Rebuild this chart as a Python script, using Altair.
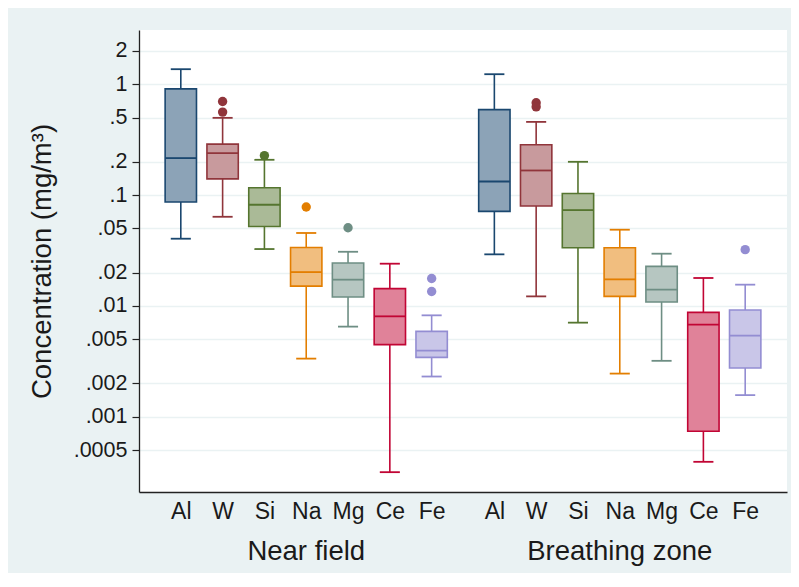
import json
import altair as alt
import pandas as pd

# ---- data ----
groups = ["Near field", "Breathing zone"]
elements = ["Al", "W", "Si", "Na", "Mg", "Ce", "Fe"]

# Near field summary statistics (whisker low, Q1, median, Q3, whisker high)
nf_lo  = [0.0404, 0.0637, 0.0326, 0.00335, 0.00651, 0.000317, 0.00231]
nf_q1  = [0.0865, 0.140,  0.0521, 0.0151,  0.01205, 0.00448,  0.00344]
nf_med = [0.2155, 0.239,  0.0818, 0.0202,  0.01726, 0.00806,  0.00396]
nf_q3  = [0.907,  0.288,  0.1164, 0.0337,  0.0244,  0.01432,  0.0059]
nf_hi  = [1.365,  0.497,  0.208,  0.0455,  0.0308,  0.02405,  0.00823]

# Breathing zone summary statistics
bz_lo  = [0.0292, 0.0122, 0.00707, 0.002455, 0.0032,  0.000393, 0.00157]
bz_q1  = [0.0712, 0.0796, 0.0335,  0.0122,   0.01086, 0.000741, 0.00276]
bz_med = [0.1326, 0.1666, 0.0732,  0.01737,  0.01402, 0.00679,  0.0054]
bz_q3  = [0.590,  0.284,  0.1034,  0.0335,   0.02275, 0.00876,  0.0092]
bz_hi  = [1.23,   0.457,  0.1995,  0.0487,   0.0296,  0.01787,  0.01556]

# Outside values
out_group   = ["Near field", "Near field", "Near field", "Near field", "Near field",
               "Near field", "Near field", "Breathing zone", "Breathing zone", "Breathing zone"]
out_element = ["W", "W", "Si", "Na", "Mg", "Fe", "Fe", "W", "W", "Fe"]
out_value   = [0.697, 0.560, 0.227, 0.078, 0.0507, 0.0177, 0.0135, 0.680, 0.625, 0.0322]

y_ticks = [2, 1, 0.5, 0.2, 0.1, 0.05, 0.02, 0.01, 0.005, 0.002, 0.001, 0.0005]

# ---- styles ----
edge_colors = ["#1a476f", "#90353b", "#55752f", "#e37e00", "#6e8e84", "#c10534", "#938dd2"]
fill_colors = ["#8ca3b7", "#c89a9d", "#aaba97", "#f1be7f", "#b6c6c1", "#e08299", "#c9c6e8"]
BG = "#eaf2f3"
FONT = "Liberation Sans"
GAP = 7.5  # slot offset of the second group

rows = []
stats = {"Near field": (nf_lo, nf_q1, nf_med, nf_q3, nf_hi),
         "Breathing zone": (bz_lo, bz_q1, bz_med, bz_q3, bz_hi)}
for gi, g in enumerate(groups):
    lo, q1, med, q3, hi = stats[g]
    for i, e in enumerate(elements):
        rows.append(dict(group=g, element=e, pos=i + gi * GAP,
                         lo=lo[i], q1=q1[i], med=med[i], q3=q3[i], hi=hi[i]))
box_df = pd.DataFrame(rows)

out_df = pd.DataFrame(dict(group=out_group, element=out_element, value=out_value))
out_df["pos"] = [elements.index(e) + groups.index(g) * GAP
                 for g, e in zip(out_group, out_element)]

label_df = pd.DataFrame(dict(group=groups, pos=[3, 3 + GAP]))

tick_pos = [i + gi * GAP for gi in range(len(groups)) for i in range(len(elements))]
names_js = json.dumps(elements)

W, H = 648, 462
xscale = alt.Scale(domain=[-1, 14.5], nice=False, zero=False)
yscale = alt.Scale(type="log", domain=[0.00021, 3.08], nice=False)
color_scale = alt.Scale(domain=elements, range=edge_colors)
fill_scale = alt.Scale(domain=elements, range=fill_colors)

base = alt.Chart(box_df)

x_axis = alt.Axis(
    values=tick_pos, title=None, grid=False, ticks=False, tickSize=0,
    labelExpr=f"datum.value < 7 ? {names_js}[datum.value] : {names_js}[datum.value - {GAP}]",
    labelFontSize=23, labelFont=FONT, labelColor="#1a1a1a",
    labelBaseline="alphabetic", labelPadding=26,
    domainColor="#222222", domainWidth=1.3, labelFlush=False,
)
y_axis = alt.Axis(
    values=y_ticks, title="Concentration (mg/m³)",
    labelExpr="datum.value >= 1 ? toString(datum.value) : substring(toString(datum.value), 1)",
    labelFontSize=21.5, labelFont=FONT, labelColor="#1a1a1a", labelPadding=5,
    tickSize=7, tickColor="#222222", tickWidth=1.2,
    domainColor="#222222", domainWidth=1.3,
    grid=True, gridColor=BG, gridWidth=1.6,
    titleFont=FONT, titleFontSize=27.5, titleFontWeight="normal", titleColor="#1a1a1a",
    titleX=-97, titleY=H / 2, titleAngle=-90, titleAlign="center", titleBaseline="middle",
)

whisker = base.mark_rule(strokeWidth=1.6).encode(
    x=alt.X("pos:Q", scale=xscale, axis=x_axis),
    y=alt.Y("lo:Q", scale=yscale, axis=y_axis),
    y2="hi:Q",
    color=alt.Color("element:N", scale=color_scale, legend=None),
)

caps = base.transform_calculate(
    cl="datum.pos - 0.24", cr="datum.pos + 0.24"
).transform_fold(["lo", "hi"], as_=["which", "v"]).mark_rule(strokeWidth=1.8).encode(
    x="cl:Q", x2="cr:Q", y="v:Q",
    color=alt.Color("element:N", scale=color_scale, legend=None),
)

box = base.transform_calculate(
    xl="datum.pos - 0.375", xr="datum.pos + 0.375"
).mark_bar(strokeWidth=1.6, opacity=1).encode(
    x="xl:Q", x2="xr:Q", y="q1:Q", y2="q3:Q",
    fill=alt.Fill("element:N", scale=fill_scale, legend=None),
    stroke=alt.Stroke("element:N", scale=color_scale, legend=None),
)

median = base.transform_calculate(
    xl="datum.pos - 0.375", xr="datum.pos + 0.375"
).mark_rule(strokeWidth=1.8).encode(
    x="xl:Q", x2="xr:Q", y="med:Q",
    color=alt.Color("element:N", scale=color_scale, legend=None),
)

outliers = alt.Chart(out_df).mark_circle(size=88, opacity=1).encode(
    x="pos:Q", y="value:Q",
    color=alt.Color("element:N", scale=color_scale, legend=None),
)

group_labels = alt.Chart(label_df).mark_text(
    font=FONT, fontSize=27.5, color="#1a1a1a", baseline="alphabetic", align="center"
).encode(
    x="pos:Q", y=alt.value(530), text="group:N",
)

chart = alt.layer(whisker, caps, box, median, outliers, group_labels).properties(
    width=W, height=H,
    background=BG,
    padding={"left": 131, "top": 22, "right": 4, "bottom": 81},
    autosize=alt.AutoSizeParams(type="none"),
).configure_view(
    fill="white", stroke=None,
)

chart.save("out.html", embed_options={"renderer": "svg", "actions": False})
